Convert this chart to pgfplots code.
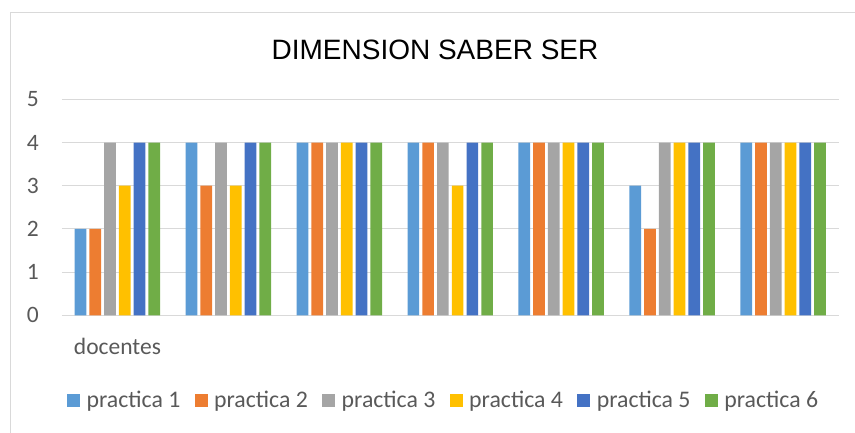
\documentclass[border=0pt]{standalone}
\usepackage{fontspec}
\setmainfont{Carlito}
\newfontfamily\titlefont{Liberation Sans}
\usepackage{pgfplots}
\usepackage{pgfplotstable}
\pgfplotsset{compat=1.18}

\definecolor{pA}{HTML}{5B9BD5}
\definecolor{pB}{HTML}{ED7D31}
\definecolor{pC}{HTML}{A5A5A5}
\definecolor{pD}{HTML}{FFC000}
\definecolor{pE}{HTML}{4472C4}
\definecolor{pF}{HTML}{70AD47}
\definecolor{gridc}{HTML}{D9D9D9}
\definecolor{txt}{HTML}{595959}

% grupo docentes ... 7 grupos, 6 practicas
\pgfplotstableread{
x p1 p2 p3 p4 p5 p6
0 2 2 4 3 4 4
1 4 3 4 3 4 4
2 4 4 4 4 4 4
3 4 4 4 3 4 4
4 4 4 4 4 4 4
5 3 2 4 4 4 4
6 4 4 4 4 4 4
}\datos

\begin{document}
\begin{tikzpicture}
\path[use as bounding box] (0,0) rectangle (855pt,-432pt);
\draw[gridc, line width=1pt] (10pt,-440pt) |- (870pt,-12pt);

\node[anchor=base, font=\titlefont\fontsize{28}{28}\selectfont] at (435pt,-59pt) {DIMENSION SABER SER};

\begin{axis}[
    at={(62pt,-315.3pt)}, anchor=south west,
    scale only axis,
    width=776.5pt, height=216pt,
    xmin=-0.5, xmax=6.5, ymin=0, ymax=5,
    enlargelimits=false,
    ybar, bar width=0.1055,
    axis line style={draw=none},
    major tick length=0pt,
    ymajorgrids,
    grid style={gridc, line width=1pt},
    xtick={0}, xticklabels={docentes},
    ytick={0,1,2,3,4,5},
    /pgf/number format/assume math mode=true,
    tick label style={font=\fontsize{23.5}{23.5}\selectfont, text=txt},
    xticklabel style={anchor=base, yshift=-38.7pt},
    yticklabel style={inner sep=0pt, xshift=-23pt},
    legend columns=6,
    legend style={draw=none, fill=none, inner sep=0pt, outer sep=0pt,
        at={(axis description cs:0,0)}, anchor=west,
        xshift=5pt, yshift=-84.7pt,
        font=\fontsize{23.8}{23.8}\selectfont, text=txt,
        nodes={inner sep=0pt},
        /tikz/every odd column/.append style={column sep=6.6pt},
        /tikz/every even column/.append style={column sep=14.2pt}},
    legend image code/.code={\fill[#1] (0pt,-6.5pt) rectangle (13pt,6.5pt);},
]
\addplot[fill=pA, draw=none, bar shift=-0.3325] table[x=x, y=p1] {\datos};
\addlegendentry{practica 1}
\addplot[fill=pB, draw=none, bar shift=-0.1995] table[x=x, y=p2] {\datos};
\addlegendentry{practica 2}
\addplot[fill=pC, draw=none, bar shift=-0.0665] table[x=x, y=p3] {\datos};
\addlegendentry{practica 3}
\addplot[fill=pD, draw=none, bar shift=0.0665] table[x=x, y=p4] {\datos};
\addlegendentry{practica 4}
\addplot[fill=pE, draw=none, bar shift=0.1995] table[x=x, y=p5] {\datos};
\addlegendentry{practica 5}
\addplot[fill=pF, draw=none, bar shift=0.3325] table[x=x, y=p6] {\datos};
\addlegendentry{practica 6}
\end{axis}
\end{tikzpicture}
\end{document}
